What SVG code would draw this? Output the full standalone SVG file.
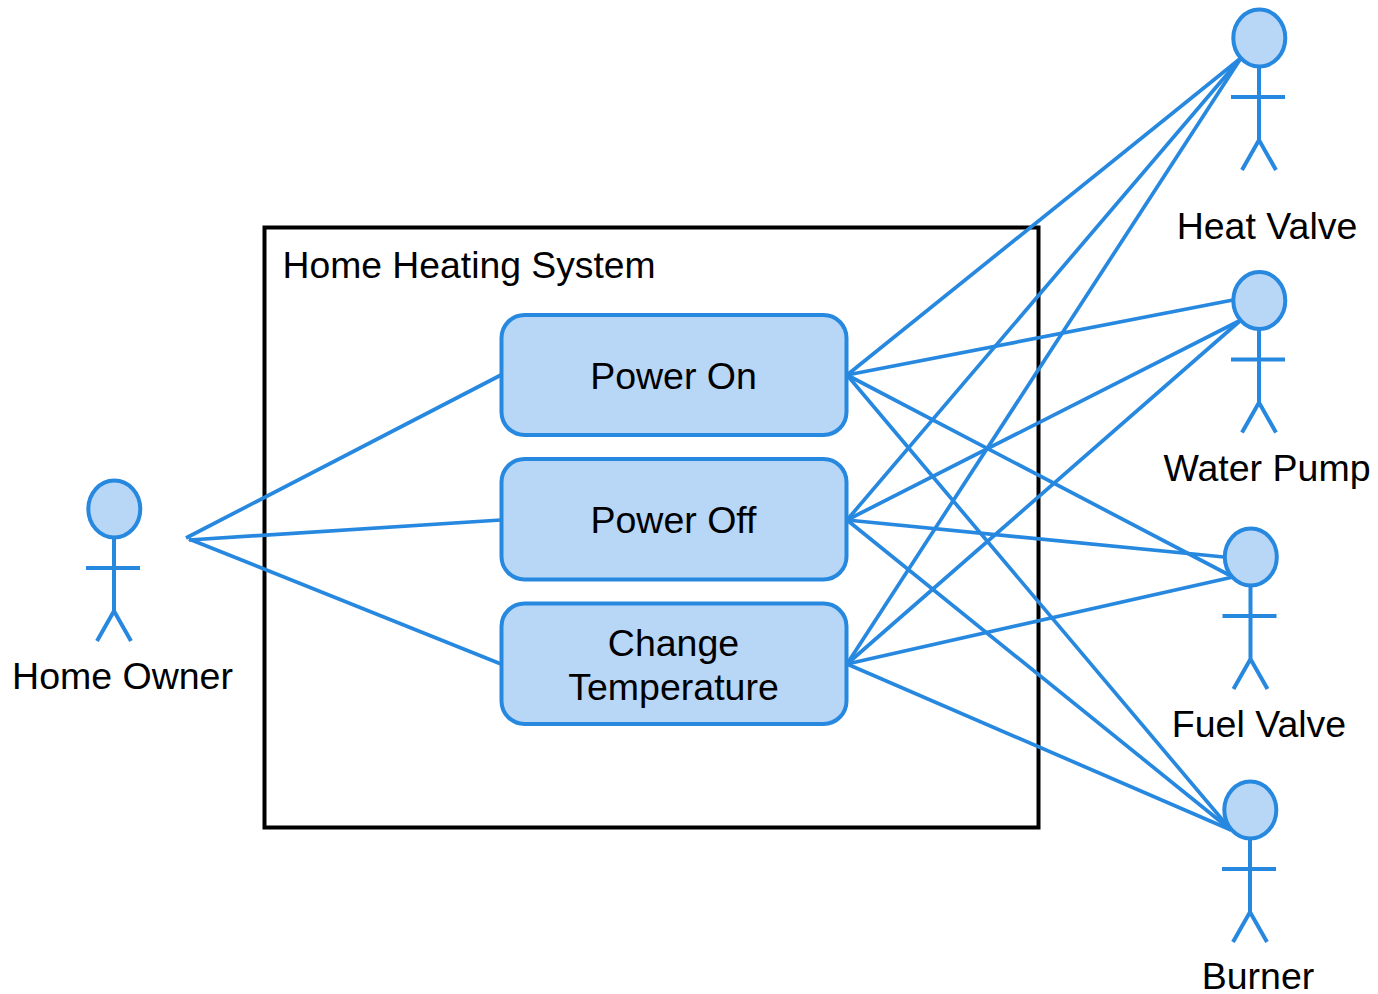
<svg xmlns="http://www.w3.org/2000/svg" width="1378" height="994" viewBox="0 0 1378 994">
<style>
text{font-family:"Liberation Sans",Arial,sans-serif;font-size:37.5px;fill:#000;text-anchor:middle}
.c line{stroke:#2788e0;stroke-width:3.7;fill:none}
.h{fill:#b8d6f6;stroke:#2788e0;stroke-width:4}
.b{stroke:#2788e0;stroke-width:4;fill:none}
.u rect{fill:#b8d6f6;stroke:#2788e0;stroke-width:4}
</style>
<defs>
<g id="stick"><ellipse class="h" cx="0.300" cy="0" rx="26" ry="28.500"/><path class="b" d="M0 29V102M-28 59H26M-17 132L0 102L17 132"/></g>
</defs>
<g id="system"><rect x="264.500" y="227.500" width="774" height="600" fill="none" stroke="#000" stroke-width="4"/><text x="282.500" y="278" style="text-anchor:start;font-size:37.3px">Home Heating System</text></g>
<g id="connectors" class="c">
<line x1="186" y1="538" x2="501" y2="375"/><line x1="189" y1="540" x2="501" y2="520"/><line x1="189" y1="539" x2="501" y2="664"/>
<line x1="847" y1="375" x2="1241" y2="58"/><line x1="847" y1="520" x2="1241" y2="58"/><line x1="847" y1="664" x2="1241" y2="58"/>
<line x1="847" y1="375" x2="1233" y2="300"/><line x1="847" y1="520" x2="1241" y2="320"/><line x1="847" y1="664" x2="1241" y2="320"/>
<line x1="847" y1="375" x2="1233" y2="577"/><line x1="847" y1="520" x2="1224" y2="557"/><line x1="847" y1="664" x2="1233" y2="577"/>
<line x1="847" y1="375" x2="1231" y2="830"/><line x1="847" y1="520" x2="1231" y2="830"/><line x1="847" y1="664" x2="1231" y2="830"/>
</g>
<g id="power-on" class="u"><rect x="501.500" y="315" width="345" height="120" rx="23"/><text x="673.500" y="389">Power On</text></g>
<g id="power-off" class="u"><rect x="501.500" y="459" width="345" height="120.500" rx="23"/><text x="673.500" y="533">Power Off</text></g>
<g id="change-temperature" class="u"><rect x="501.500" y="603.500" width="345" height="120.500" rx="23"/><text x="673.500" y="656">Change</text><text x="673.500" y="700">Temperature</text></g>
<g id="home-owner"><use href="#stick" x="114" y="509"/><text x="122.500" y="689">Home Owner</text></g>
<g id="heat-valve"><use href="#stick" x="1259" y="38"/><text x="1267" y="239">Heat Valve</text></g>
<g id="water-pump"><use href="#stick" x="1259" y="300.500"/><text x="1267" y="481">Water Pump</text></g>
<g id="fuel-valve"><use href="#stick" x="1250.500" y="557"/><text x="1259" y="737">Fuel Valve</text></g>
<g id="burner"><use href="#stick" x="1250" y="810"/><text x="1258" y="989">Burner</text></g>
</svg>
